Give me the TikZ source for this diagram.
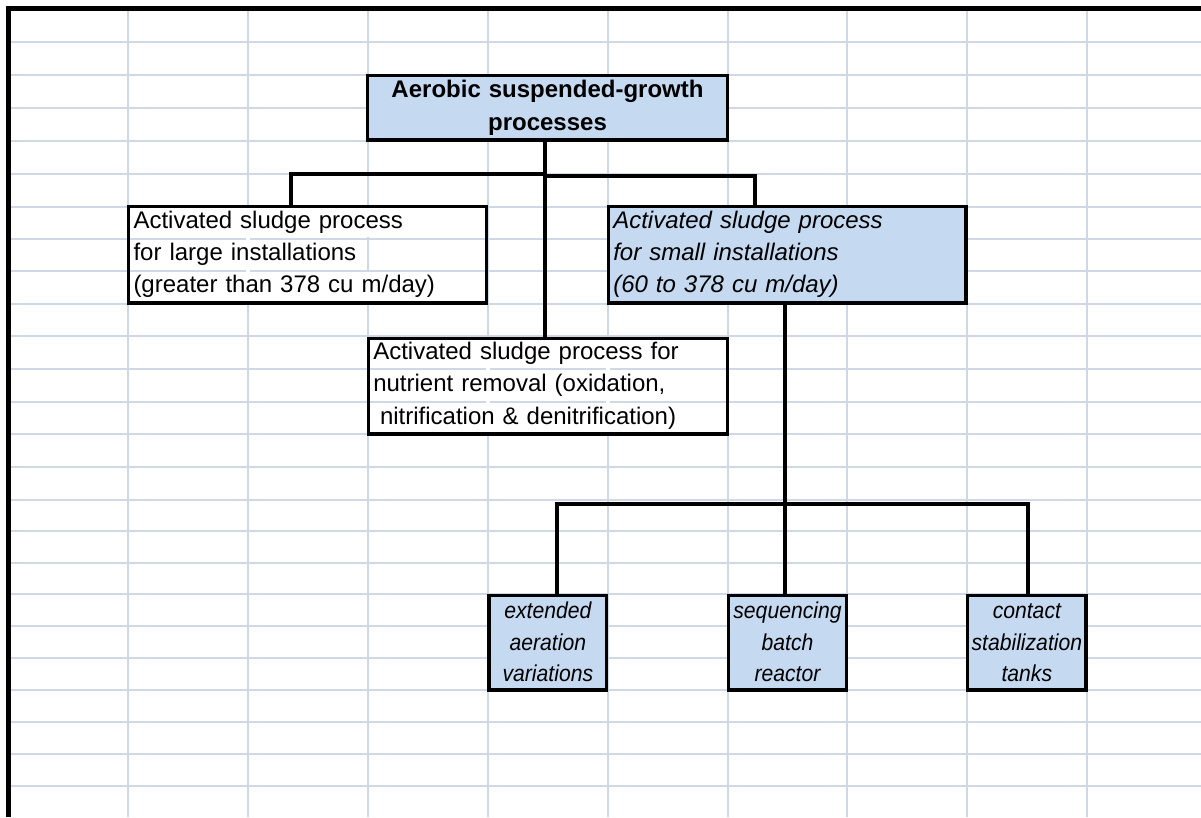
\documentclass[tikz,border=0pt]{standalone}
\usepackage{fontspec}
\setmainfont{Liberation Sans}
\newfontfamily\narrowsans[FakeStretch=0.92]{Liberation Sans}
\definecolor{gridc}{HTML}{D0D7E5}
\definecolor{boxblue}{HTML}{C5D9F1}
\newcommand{\myStA}{\rule[-6.7pt]{0pt}{24.7pt}}
\newcommand{\myStB}{\rule[-2.7pt]{0pt}{19.7pt}}
\begin{document}
\begin{tikzpicture}[x=1pt,y=-1pt,
  gridline/.style={draw=gridc,line width=2pt},
  box/.style={draw=black,line width=3.2pt,inner ysep=0pt,inner xsep=5pt,align=left,
    font=\fontsize{24}{32.35}\selectfont},
  bluebox/.style={box,fill=boxblue},
  whitebox/.style={box},
  smallbox/.style={draw=black,line width=3.2pt,fill=boxblue,inner ysep=0pt,inner xsep=2pt,
    align=center,font=\narrowsans\fontsize{23}{31.7}\selectfont\itshape},
  conn/.style={draw=black,line width=4pt}]
\useasboundingbox (0,0) rectangle (1201,817);
% spreadsheet grid
\foreach \gy in {42,75,108,141,173.5,206.5,238.5,271,303.5,336,369,401.5,434,467,500,531,563,594,626,658,690,722,754,786}
  \draw[gridline] (11,\gy) -- (1201,\gy);
\foreach \gx in {128,248,368,487.7,607.5,727.5,847,967,1086.5}
  \draw[gridline] (\gx,11) -- (\gx,817);
% gridlines hidden by overflowing text
\fill[white] (246,208) rectangle (250,302);
\fill[white] (366,208) rectangle (370,237.4);
\fill[white] (366,272.1) rectangle (370,302);
\fill[white] (485.7,340) rectangle (489.7,432);
\fill[white] (605.5,340) rectangle (609.5,432);
% sheet border
\draw[line width=5pt] (8.5,817) -- (8.5,8.5) -- (1201,8.5);
% boxes
\node[bluebox,align=center,font=\fontsize{24}{33}\selectfont\bfseries,
  text width=349.6pt,minimum height=64.3pt] (top) at (547.5,107.85)
  {\myStA Aerobic suspended-growth\\\myStA processes};
\node[whitebox,text width=348.2pt,minimum height=96.3pt] (L) at (307.6,254.85)
  {\myStA Activated sludge process\\\myStA for large installations\\\myStA (greater than 378 cu m/day)};
\node[bluebox,font=\fontsize{24}{32.35}\selectfont\itshape,text width=347.7pt,minimum height=96.3pt] (R) at (787.15,254.85)
  {\myStA Activated sludge process\\\myStA for small installations\\\myStA (60 to 378 cu m/day)};
\node[whitebox,text width=349pt,minimum height=95.7pt] (N) at (547.8,386.15)
  {\myStA Activated sludge process for\\\myStA nutrient removal (oxidation,\\\myStA\hspace*{6.7pt}nitrification \& denitrification)};
\node[smallbox,text width=113.7pt,minimum height=94.3pt] (S1) at (547.85,642.85)
  {\myStB extended\\\myStB aeration\\\myStB variations};
\node[smallbox,text width=114.4pt,minimum height=94.3pt] (S2) at (787.5,642.85)
  {\myStB sequencing\\\myStB batch\\\myStB reactor};
\node[smallbox,text width=114.3pt,minimum height=94.3pt] (S3) at (1026.85,642.85)
  {\myStB contact\\\myStB stabilization\\\myStB tanks};
% connectors
\coordinate (ja) at (544.5,174);
\coordinate (cl) at (290.5,174);
\coordinate (cm) at (544.5,176);
\coordinate (cr) at (754.5,176);
\coordinate (dx) at (785,0);
\coordinate (bl) at (557,504);
\coordinate (br) at (1028,504);
\draw[conn] (top.south -| ja) -- (N.north -| ja);
\draw[conn] (L.north -| cl) -- (cl) -- (ja);
\draw[conn] (cm) -- (cr) -- (R.north -| cr);
\draw[conn] (R.south -| dx) -- (S2.north -| dx);
\draw[conn] (S1.north -| bl) -- (bl) -- (br) -- (S3.north -| br);
\end{tikzpicture}
\end{document}
